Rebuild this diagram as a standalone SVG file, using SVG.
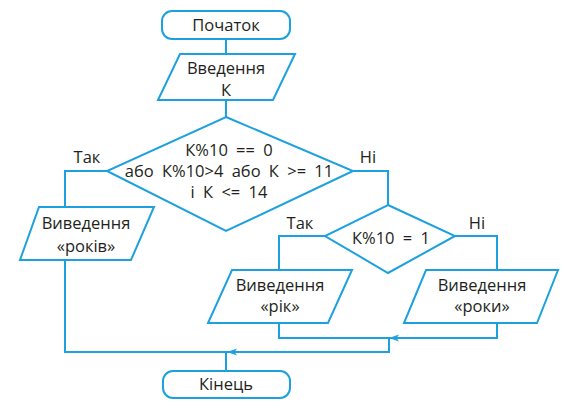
<svg xmlns="http://www.w3.org/2000/svg" width="561" height="404" viewBox="0 0 561 404">
<defs>
<style>
.s{fill:#fff;stroke:#1da1de;stroke-width:2;stroke-linejoin:miter}
.c{fill:none;stroke:#1da1de;stroke-width:2}
text{font-family:"Open Sans","Noto Sans",sans-serif;font-size:16.5px;fill:#231f20;text-anchor:middle}
.w{word-spacing:4px}
</style>
<marker id="a" viewBox="0 0 10 10" refX="10" refY="5" markerWidth="10" markerHeight="10" markerUnits="userSpaceOnUse" orient="auto">
<path d="M0,1.5 L10,5 L0,8.5 L2.5,5 Z" fill="#1da1de"/>
</marker>
</defs>
<rect width="561" height="404" fill="#fff"/>
<g id="connectors">
<path class="c" d="M226,39 V54"/>
<path class="c" d="M226,100 V117"/>
<path class="c" d="M107,171 H65 V207"/>
<path class="c" d="M353,171 H388 V205"/>
<path class="c" d="M325,236 H279 V270"/>
<path class="c" d="M455,236 H497 V270"/>
<path class="c" d="M279,323 V338 H497 V323"/>
<path class="c" d="M497,338 H389" marker-end="url(#a)"/>
<path class="c" d="M65,260 V352 H389 V338"/>
<path class="c" d="M389,352 H227" marker-end="url(#a)"/>
<path class="c" d="M226,352 V371"/>
</g>
<g id="start">
<rect class="s" x="162" y="11" width="128" height="28" rx="10"/>
<text x="226" y="31">Початок</text>
</g>
<g id="input">
<polygon class="s" points="180,54 295,54 273,100 158,100"/>
<text x="226" y="74">Введення</text>
<text x="226" y="96">К</text>
</g>
<g id="cond1">
<polygon class="s" points="226,117 353,171 226,231 107,171"/>
<text class="w" x="229" y="156">К%10 == 0</text>
<text class="w" x="229" y="177">або К%10&gt;4 або К &gt;= 11</text>
<text class="w" x="229" y="198">і К &lt;= 14</text>
<text x="87" y="163">Так</text>
<text x="368" y="163">Ні</text>
</g>
<g id="out-rokiv">
<polygon class="s" points="39,207 154,207 131,260 20,260"/>
<text x="86" y="229">Виведення</text>
<text x="86" y="252">«років»</text>
</g>
<g id="cond2">
<polygon class="s" points="388,205 455,236 388,273 325,236"/>
<text class="w" x="391" y="244">К%10 = 1</text>
<text x="300" y="229">Так</text>
<text x="477" y="229">Ні</text>
</g>
<g id="out-rik">
<polygon class="s" points="232,270 352,270 328,323 208,323"/>
<text x="280" y="291">Виведення</text>
<text x="280" y="312">«рік»</text>
</g>
<g id="out-roky">
<polygon class="s" points="426,270 558,270 537,323 404,323"/>
<text x="482" y="291">Виведення</text>
<text x="482" y="312">«роки»</text>
</g>
<g id="end">
<rect class="s" x="163" y="371" width="127" height="27" rx="10"/>
<text x="226" y="390">Кінець</text>
</g>
</svg>
